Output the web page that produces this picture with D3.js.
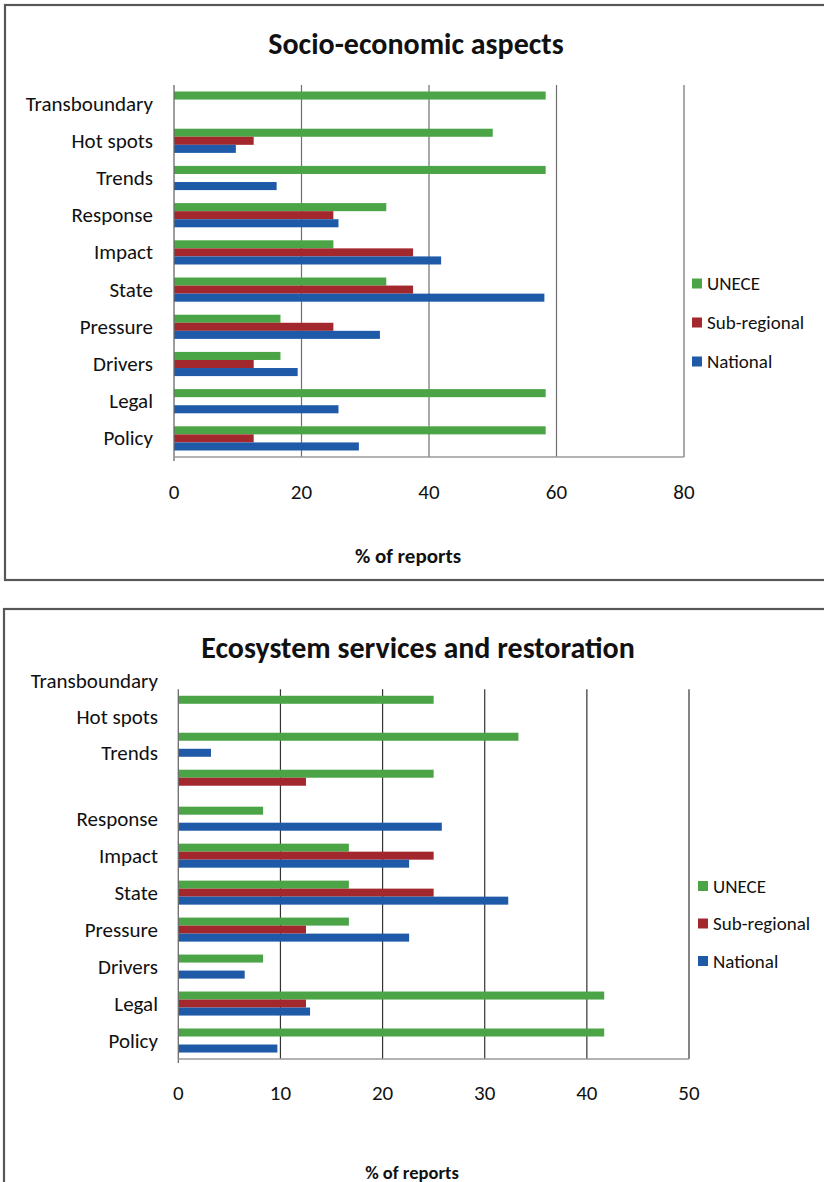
<!DOCTYPE html>
<html>
<head>
<meta charset="utf-8">
<script src="https://cdn.jsdelivr.net/npm/d3@7"></script>
<style>
  html, body { margin: 0; padding: 0; background: #fff; }
  svg { display: block; }
  text { font-family: Carlito, Lato, "Open Sans", sans-serif; fill: #111; }
</style>
</head>
<body>
<svg id="fig" width="824" height="1182"></svg>
<script>
// Report categories, listed top to bottom as drawn
const categories = ["Transboundary", "Hot spots", "Trends", "Response", "Impact",
                    "State", "Pressure", "Drivers", "Legal", "Policy"];
const seriesNames = ["UNECE", "Sub-regional", "National"];
const seriesColors = ["#4ba446", "#a3282e", "#1e5aa8"];

// Socio-economic aspects (% of reports)
const socioUNECE    = [58.3, 50.0, 58.3, 33.3, 25.0, 33.3, 16.7, 16.7, 58.3, 58.3];
const socioSubReg   = [0, 12.5, 0, 25.0, 37.5, 37.5, 25.0, 12.5, 0, 12.5];
const socioNational = [0, 9.7, 16.1, 25.8, 41.9, 58.1, 32.3, 19.4, 25.8, 29.0];
const socioTicks    = [0, 20, 40, 60, 80];

// Ecosystem services and restoration (% of reports)
const ecoUNECE    = [25.0, 33.3, 25.0, 8.3, 16.7, 16.7, 16.7, 8.3, 41.7, 41.7];
const ecoSubReg   = [0, 0, 12.5, 0, 25.0, 25.0, 12.5, 0, 12.5, 0];
const ecoNational = [0, 3.2, 0, 25.8, 22.6, 32.3, 22.6, 6.5, 12.9, 9.7];
const ecoTicks    = [0, 10, 20, 30, 40, 50];

const svg = d3.select("#fig");

function drawPanel(opt) {
  const g = svg.append("g");

  // outer frame
  g.append("rect")
    .attr("x", opt.frame.x).attr("y", opt.frame.y)
    .attr("width", opt.frame.w).attr("height", opt.frame.h)
    .attr("fill", "#fff").attr("stroke", "#575757").attr("stroke-width", 2.2);

  g.append("text")
    .attr("x", opt.titleX).attr("y", opt.titleY)
    .attr("text-anchor", "middle").attr("dominant-baseline", "central")
    .attr("font-size", 30).attr("font-weight", "bold")
    .text(opt.title);

  const x = d3.scaleLinear().domain([0, opt.max]).range([opt.plot.left, opt.plot.right]);
  const y0 = d3.scaleBand().domain(categories)
    .range([opt.plot.top, opt.plot.bottom])
    .paddingInner(0.35).paddingOuter(0.175);
  const y1 = d3.scaleBand().domain(seriesNames).range([0, y0.bandwidth()]);

  // vertical gridlines
  g.append("g").selectAll("line").data(opt.ticks.filter(t => t > 0)).join("line")
    .attr("x1", d => x(d)).attr("x2", d => x(d))
    .attr("y1", opt.plot.top).attr("y2", opt.plot.bottom)
    .attr("stroke", opt.gridColor).attr("stroke-width", 1.2);

  // bars
  const values = [opt.unece, opt.sub, opt.nat];
  const rows = [];
  categories.forEach((c, i) => {
    seriesNames.forEach((s, k) => rows.push({ cat: c, series: s, k, v: values[k][i] }));
  });
  g.append("g").selectAll("rect").data(rows.filter(r => r.v > 0)).join("rect")
    .attr("x", x(0))
    .attr("y", d => y0(d.cat) + y1(d.series))
    .attr("width", d => x(d.v) - x(0))
    .attr("height", y1.bandwidth())
    .attr("fill", d => seriesColors[d.k]);

  // axes lines
  g.append("line")
    .attr("x1", x(0)).attr("x2", x(0))
    .attr("y1", opt.plot.top).attr("y2", opt.plot.bottom + 4)
    .attr("stroke", "#6a6a6a").attr("stroke-width", 1.3);
  g.append("line")
    .attr("x1", x(0)).attr("x2", x(opt.max))
    .attr("y1", opt.plot.bottom).attr("y2", opt.plot.bottom)
    .attr("stroke", "#9a9a9a").attr("stroke-width", 1.3);

  // category labels
  g.append("g").selectAll("text").data(categories).join("text")
    .attr("x", opt.labelX)
    .attr("y", (d, i) => y0(d) + y0.bandwidth() / 2 + (opt.labelShift[i] || 0))
    .attr("text-anchor", "end").attr("dominant-baseline", "central")
    .attr("font-size", 21)
    .text(d => d);

  // tick labels
  g.append("g").selectAll("text").data(opt.ticks).join("text")
    .attr("x", d => x(d)).attr("y", opt.tickY)
    .attr("text-anchor", "middle").attr("dominant-baseline", "central")
    .attr("font-size", 21)
    .text(d => d);

  g.append("text")
    .attr("x", opt.axisTitleX).attr("y", opt.axisTitleY)
    .attr("text-anchor", "middle").attr("dominant-baseline", "central")
    .attr("font-size", opt.axisTitleSize).attr("font-weight", "bold")
    .text("% of reports");

  // legend
  const lg = g.append("g").selectAll("g").data(seriesNames).join("g")
    .attr("transform", (d, i) => `translate(${opt.legend.x},${opt.legend.y + i * opt.legend.gap})`);
  lg.append("rect").attr("x", 0).attr("y", -5).attr("width", 10).attr("height", 10)
    .attr("fill", (d, i) => seriesColors[i]);
  lg.append("text").attr("x", 15).attr("y", 0)
    .attr("dominant-baseline", "central").attr("font-size", 19)
    .text(d => d);
}

drawPanel({
  title: "Socio-economic aspects",
  frame: { x: 5, y: 5, w: 830, h: 575 },
  titleX: 416, titleY: 43,
  plot: { left: 174, right: 684, top: 85, bottom: 457 },
  max: 80, ticks: socioTicks, gridColor: "#6f6f6f",
  unece: socioUNECE, sub: socioSubReg, nat: socioNational,
  labelX: 153, labelShift: [],
  tickY: 492,
  axisTitleX: 408, axisTitleY: 556, axisTitleSize: 21,
  legend: { x: 692, y: 283.5, gap: 39 }
});

drawPanel({
  title: "Ecosystem services and restoration",
  frame: { x: 4, y: 609, w: 830, h: 600 },
  titleX: 418, titleY: 647,
  plot: { left: 178.3, right: 689, top: 689.3, bottom: 1059 },
  max: 50, ticks: ecoTicks, gridColor: "#333",
  unece: ecoUNECE, sub: ecoSubReg, nat: ecoNational,
  labelX: 158, labelShift: [-27, -28, -29],
  tickY: 1093,
  axisTitleX: 412, axisTitleY: 1172, axisTitleSize: 18.5,
  legend: { x: 698, y: 886, gap: 37.5 }
});
</script>
</body>
</html>
